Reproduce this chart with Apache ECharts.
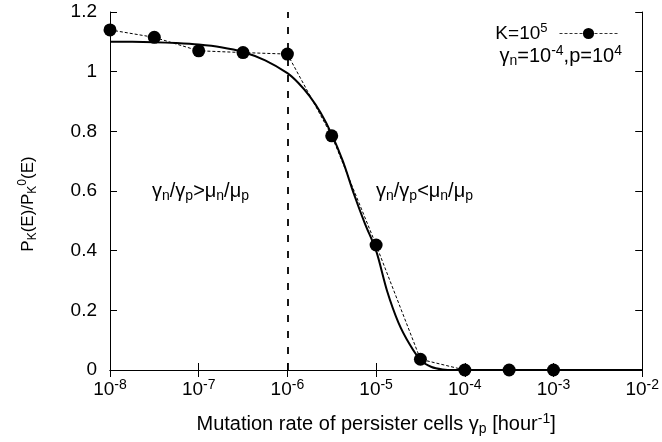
<!DOCTYPE html>
<html><head><meta charset="utf-8">
<script src="https://cdn.jsdelivr.net/npm/echarts@6/dist/echarts.min.js"></script>
<style>html,body{margin:0;padding:0;background:#fff}#c{width:662px;height:442px}</style>
</head><body><div id="c"></div>
<script>
// Smooth analytical curve
const curveX = [1e-8, 1.78e-8, 3.16e-8, 5.62e-8, 1e-7, 1.78e-7, 3.16e-7, 5.62e-7, 1e-6, 1.33e-6, 1.78e-6, 2.37e-6, 3.16e-6, 4.22e-6, 5.62e-6, 7.5e-6, 1e-5, 1.33e-5, 1.78e-5, 2.37e-5, 3.16e-5, 4.22e-5, 5.62e-5, 7.5e-5, 1e-4, 1e-3, 1e-2];
const curveY = [1.100, 1.100, 1.099, 1.096, 1.091, 1.082, 1.066, 1.038, 0.995, 0.962, 0.918, 0.862, 0.790, 0.700, 0.590, 0.490, 0.400, 0.265, 0.160, 0.088, 0.034, 0.010, 0.002, 0, 0, 0, 0];
// Simulation points K=10^5
const ptX = [1e-8, 3.16e-8, 1e-7, 3.16e-7, 1e-6, 3.16e-6, 1e-5, 3.16e-5, 1e-4, 3.16e-4, 1e-3];
const ptY = [1.14, 1.115, 1.07, 1.064, 1.059, 0.785, 0.419, 0.036, 0, 0, 0];
const yTicks = [0, 0.2, 0.4, 0.6, 0.8, 1, 1.2];
const boundaryX = 1e-6;

const FONT = 'Liberation Sans, Arial, Helvetica, sans-serif';
const mkRich = (base, small) => ({
  b: {fontSize: base, lineHeight: base + 5, verticalAlign: 'middle', fontFamily: FONT, color: '#000'},
  sup: {fontSize: small, lineHeight: small - 2, verticalAlign: 'top', fontFamily: FONT, color: '#000'},
  sub: {fontSize: small, lineHeight: small - 2, verticalAlign: 'bottom', fontFamily: FONT, color: '#000'}
});
const rich = mkRich(19, 14);
const richY = mkRich(17, 12);
const richL = mkRich(19, 13);
const chart = echarts.init(document.getElementById('c'), null, {renderer: 'canvas'});
const axisCommon = {
  axisLine: {show: true, lineStyle: {color: '#000', width: 1}},
  axisTick: {show: true, inside: true, length: 7, lineStyle: {color: '#000', width: 1}},
  splitLine: {show: false}
};
const expFmt = v => '{b|10}{sup|' + Math.round(Math.log10(v)) + '}';
chart.setOption({
  animation: false,
  backgroundColor: '#fff',
  grid: {left: 110, right: 17, top: 12, bottom: 72, containLabel: false},
  xAxis: [
    Object.assign({type: 'log', logBase: 10, min: 1e-8, max: 1e-2, splitNumber: 6, position: 'bottom',
      axisLabel: {formatter: expFmt, rich: rich, margin: 8, color: '#000'},
      name: 'Mutation rate of persister cells γ{sub|p} [hour{sup|-1}]', nameLocation: 'middle', nameGap: 42,
      nameTextStyle: {fontSize: 20, fontFamily: FONT, color: '#000', lineHeight: 24, rich: rich}
    }, axisCommon),
    Object.assign({type: 'log', logBase: 10, min: 1e-8, max: 1e-2, splitNumber: 6, position: 'top',
      axisLabel: {show: false}}, axisCommon)
  ],
  yAxis: [
    Object.assign({type: 'value', min: 0, max: 1.2, interval: 0.2, position: 'left',
      axisLabel: {formatter: v => String(parseFloat(v.toFixed(1))), fontSize: 19, fontFamily: FONT, color: '#000', margin: 13}
    }, axisCommon),
    Object.assign({type: 'value', min: 0, max: 1.2, interval: 0.2, position: 'right',
      axisLabel: {show: false}}, axisCommon)
  ],
  legend: {
    data: ['K=10^5'], right: 39, top: 17, align: 'right', itemWidth: 58, itemHeight: 14,
    formatter: () => 'K=10{sup|5}',
    lineStyle: {width: 1, type: [3, 2], color: '#333'},
    textStyle: {fontSize: 19, fontFamily: FONT, color: '#000', lineHeight: 23, padding: [0, 7, 0, 0], rich: richL}
  },
  graphic: [
    {type: 'text', x: 28, y: 204, rotation: Math.PI / 2,
      style: {text: 'P{sub|K}(E)/P{sub|K}{sup|0}(E)', font: '17px ' + FONT, fill: '#000', align: 'center', verticalAlign: 'middle', lineHeight: 22, rich: richY}},
    {type: 'text', right: 40, top: 44, style: {text: 'γ{sub|n}=10{sup|-4},p=10{sup|4}', font: '20px ' + FONT, fill: '#000', lineHeight: 24, rich: rich}},
    {type: 'text', left: 152, top: 179, style: {text: 'γ{sub|n}/γ{sub|p}>μ{sub|n}/μ{sub|p}', font: '20px ' + FONT, fill: '#000', lineHeight: 24, rich: mkRich(20, 14)}},
    {type: 'text', left: 376, top: 179, style: {text: 'γ{sub|n}/γ{sub|p}<μ{sub|n}/μ{sub|p}', font: '20px ' + FONT, fill: '#000', lineHeight: 24, rich: mkRich(20, 14)}}
  ],
  series: [
    {
      name: 'theory', type: 'line', xAxisIndex: 0, yAxisIndex: 0,
      data: curveX.map((x, i) => [x, curveY[i]]),
      smooth: 0.3, showSymbol: false, symbol: 'none',
      lineStyle: {color: '#000', width: 2}, z: 2,
      markLine: {
        silent: true, symbol: 'none', label: {show: false},
        lineStyle: {color: '#000', width: 1.8, type: [7, 9]},
        data: [[{coord: [boundaryX, 0]}, {coord: [boundaryX, 1.2]}]]
      }
    },
    {
      name: 'K=10^5', type: 'line', xAxisIndex: 0, yAxisIndex: 0,
      data: ptX.map((x, i) => [x, ptY[i]]),
      symbol: 'circle', symbolSize: 13, clip: false,
      itemStyle: {color: '#000'},
      lineStyle: {color: '#000', width: 1, type: [3, 2]}, z: 3
    }
  ]
});
</script></body></html>
